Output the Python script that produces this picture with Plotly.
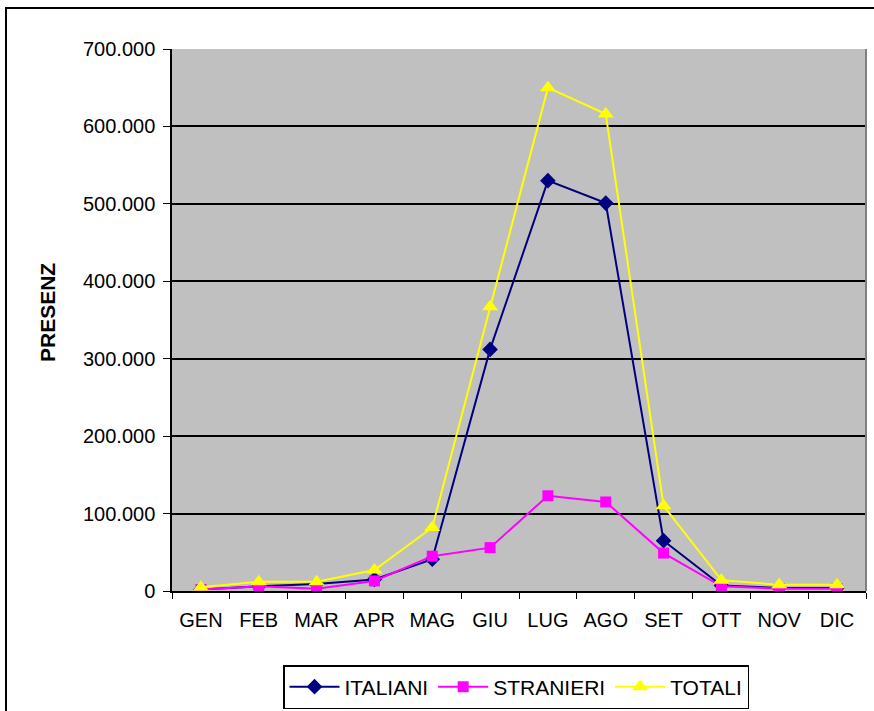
import plotly.graph_objects as go

months = ["GEN", "FEB", "MAR", "APR", "MAG", "GIU", "LUG", "AGO", "SET", "OTT", "NOV", "DIC"]
italiani = [2000, 6000, 9000, 15000, 41000, 312000, 530000, 501000, 65000, 7000, 4000, 4000]
stranieri = [2000, 6000, 3000, 13000, 45000, 56000, 123000, 115000, 49000, 6000, 3000, 3000]
totali = [5000, 12000, 12000, 27000, 82000, 367000, 650000, 616000, 110000, 14000, 8000, 8000]
y_ticks = [0, 100000, 200000, 300000, 400000, 500000, 600000, 700000]

FONT = "Liberation Sans, Arial, sans-serif"
H = 780  # taller canvas; window shows the top 711 px
PLOT_H = 542

fig = go.Figure()
fig.add_trace(go.Scatter(x=months, y=italiani, name="ITALIANI", mode="lines+markers",
                         line=dict(color="#000080", width=2),
                         marker=dict(symbol="diamond", size=12, color="#000080")))
fig.add_trace(go.Scatter(x=months, y=stranieri, name="STRANIERI", mode="lines+markers",
                         line=dict(color="#FF00FF", width=2),
                         marker=dict(symbol="square", size=11, color="#FF00FF")))
fig.add_trace(go.Scatter(x=months, y=totali, name="TOTALI", mode="lines+markers",
                         line=dict(color="#FFFF00", width=2),
                         marker=dict(symbol="triangle-up", size=14, color="#FFFF00")))

def py(px):
    return 1 - (px - 49) / PLOT_H

fig.update_layout(
    width=874, height=H,
    margin=dict(l=172, r=8, t=49, b=H - 49 - PLOT_H),
    paper_bgcolor="white", plot_bgcolor="#C0C0C0",
    separators=",.",
    font=dict(family=FONT, size=20, color="black"),
    showlegend=True,
    legend=dict(orientation="h", x=0.4957, xanchor="center", y=py(665), yanchor="top",
                bordercolor="black", borderwidth=1.5, bgcolor="white",
                font=dict(family=FONT, size=21), itemwidth=50),
    xaxis=dict(type="category", range=[-0.5, 11.5], showline=True, linecolor="black",
               linewidth=1.5, ticks="outside", tickson="boundaries", ticklen=6,
               tickcolor="black", showgrid=False, tickfont=dict(size=20),
               ticklabelstandoff=10, automargin=False),
    yaxis=dict(range=[0, 700000], tickvals=y_ticks, tickformat=",.0f",
               showline=True, linecolor="black", linewidth=1.5, ticks="outside",
               ticklen=7, tickcolor="black", gridcolor="black", gridwidth=1.5,
               zeroline=False, tickfont=dict(size=20), ticklabelstandoff=4,
               automargin=False),
    annotations=[dict(text="<b>PRESENZ</b>", x=(47 - 172) / 694, y=py(313),
                      xref="paper", yref="paper", xanchor="center", yanchor="middle",
                      textangle=-90, showarrow=False, font=dict(family=FONT, size=21))],
    shapes=[dict(type="rect", xref="paper", yref="paper", x0=(6 - 172) / 694, x1=1.05,
                 y0=py(H + 20), y1=py(8), line=dict(color="black", width=2)),
            dict(type="line", xref="paper", yref="paper", x0=1.0, x1=1.0, y0=0, y1=1,
                 line=dict(color="#808080", width=2))],
)

fig.write_html("out.html", config={"displayModeBar": False},
               post_script="document.body.style.margin='0';document.body.style.overflow='hidden';document.documentElement.style.overflow='hidden';")
